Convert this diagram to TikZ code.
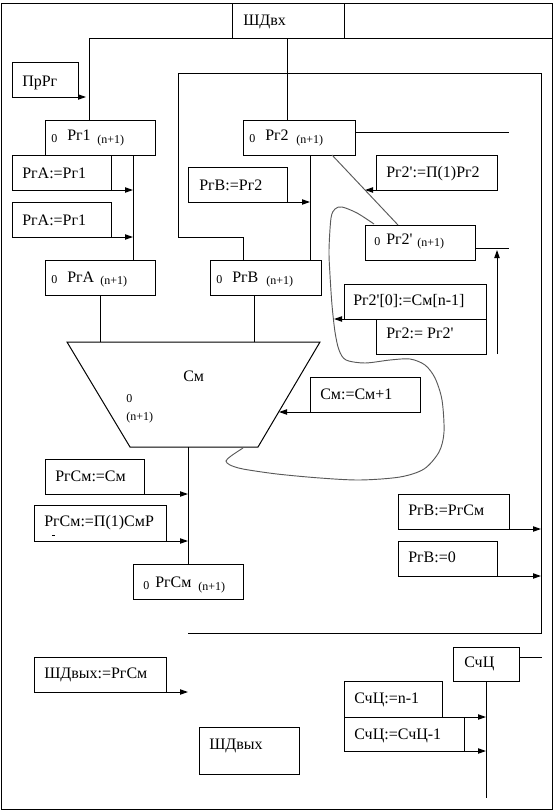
\documentclass[tikz,border=0pt]{standalone}
\usepackage{fontspec}
\setmainfont{Liberation Serif}[Ligatures=TeXOff]
\usetikzlibrary{arrows.meta,fit,calc}
\begin{document}
\begin{tikzpicture}[x=0.75pt,y=-0.75pt,
  ln/.style={line width=0.75pt},
  bx/.style={draw, line width=0.75pt, inner sep=0pt, outer sep=0pt, rectangle},
  txt/.style={anchor=base west, inner sep=0pt, font=\fontsize{12}{14}\selectfont},
  sub/.style={anchor=base west, inner sep=0pt, font=\fontsize{9}{10}\selectfont},
  arr/.style={line width=0.75pt, -{Triangle[length=6pt,width=4pt]}},
  gr/.style={draw=black!65, line width=0.7pt}]
\useasboundingbox (0,0) rectangle (554,810);
% ---------- boxes ----------
\node[bx, fit={(1,3)(552,809)}] (frame) {};
\node[bx, fit={(232,3)(344,38)}] (shdvx) {};
\node[bx, fit={(344,3)(552,38)}] (topr) {};
\node[bx, fit={(12,62)(78,97)}] (prrg) {};
\node[bx, fit={(45,120)(155,155)}] (pr1) {};
\node[bx, fit={(12,155)(111,190)}] (pra1) {};
\node[bx, fit={(12,202)(111,237)}] (pra2) {};
\node[bx, fit={(188,167)(287,202)}] (prb2) {};
\node[bx, fit={(243,120)(355,155)}] (pr2) {};
\node[bx, fit={(376,155)(497,190)}] (shft) {};
\node[bx, fit={(365,225)(475,260)}] (pr2p) {};
\node[bx, fit={(344,284)(486,319)}] (pr20) {};
\node[bx, fit={(376,319)(486,354)}] (pr2c) {};
\node[bx, fit={(45,260)(155,295)}] (pra) {};
\node[bx, fit={(210,260)(321,295)}] (prb) {};
\node[bx, fit={(310,377)(420,412)}] (inc) {};
\node[bx, fit={(45,459)(144,494)}] (rsm1) {};
\node[bx, fit={(34,505)(166,541)}] (rsm2) {};
\node[bx, fit={(133,564)(243,599)}] (rsm) {};
\node[bx, fit={(34,657)(166,692)}] (out1) {};
\node[bx, fit={(199,727)(299,774)}] (out) {};
\node[bx, fit={(398,494)(509,529)}] (rb1) {};
\node[bx, fit={(398,541)(497,576)}] (rb2) {};
\node[bx, fit={(453,647)(519,681)}] (sch) {};
\node[bx, fit={(344,681)(442,717)}] (sch1) {};
\node[bx, fit={(344,717)(464,751)}] (sch2) {};
% adder (trapezoid)
\coordinate (tA) at (67,342);
\coordinate (tB) at (320,342);
\coordinate (tC) at (258,447);
\coordinate (tD) at (130,447);
\draw[ln] (tA) -- (tB) -- (tC) -- (tD) -- cycle;
% ---------- texts ----------
\node[txt] (t-shdvx) at (243,25) {ШДвх};
\node[txt] (t-prrg) at (22,86) {ПрРг};
\node[sub] (t-pr1a) at (51,142) {0};
\node[txt] (t-pr1b) at (67,140) {Рг1};
\node[sub] (t-pr1c) at (97,143) {(n+1)};
\node[txt] (t-pra1) at (22,178) {РгА:=Рг1};
\node[txt] (t-pra2) at (22,225) {РгА:=Рг1};
\node[txt] (t-prb2) at (199,190) {РгВ:=Рг2};
\node[sub] (t-pr2a) at (249,142) {0};
\node[txt] (t-pr2b) at (265,140) {Рг2};
\node[sub] (t-pr2c) at (296,143) {(n+1)};
\node[txt] (t-shft) at (386,177) {Рг2':=П(1)Рг2};
\node[sub] (t-pr2pa) at (374,245) {0};
\node[txt] (t-pr2pb) at (386,244) {Рг2'};
\node[sub] (t-pr2pc) at (417,246) {(n+1)};
\node[txt] (t-pr20) at (353,305) {Рг2'[0]:=См[n-1]};
\node[txt] (t-pr2c) at (386,338) {Рг2:= Рг2'};
\node[sub] (t-praa) at (51,283) {0};
\node[txt] (t-prab) at (67,282) {РгА};
\node[sub] (t-prac) at (100,284) {(n+1)};
\node[sub] (t-prba) at (216,283) {0};
\node[txt] (t-prbb) at (232,282) {РгВ};
\node[sub] (t-prbc) at (266,284) {(n+1)};
\node[txt] (t-sm) at (183,381) {См};
\node[sub] (t-sma) at (126,402) {0};
\node[sub] (t-smb) at (126,420) {(n+1)};
\node[txt] (t-inc) at (320,399) {См:=См+1};
\node[txt] (t-rsm1) at (55,481) {РгСм:=См};
\node[txt] (t-rsm2) at (44,526) {РгСм:=П(1)СмР};
\node[sub] (t-rsma) at (143,589) {0};
\node[txt] (t-rsmb) at (155,587) {РгСм};
\node[sub] (t-rsmc) at (198,590) {(n+1)};
\node[txt] (t-out1) at (44,678) {ШДвых:=РгСм};
\node[txt] (t-out) at (209,749) {ШДвых};
\node[txt] (t-rb1) at (408,515) {РгВ:=РгСм};
\node[txt] (t-rb2) at (408,562) {РгВ:=0};
\node[txt] (t-sch) at (464,667) {СчЦ};
\node[txt] (t-sch1) at (354,703) {СчЦ:=n-1};
\node[txt] (t-sch2) at (354,739) {СчЦ:=СчЦ-1};
\draw[line width=0.5pt] (52,535) -- (55,535);
% ---------- connectors ----------
\coordinate (busL) at (89,38);
\draw[ln] (pr1.north -| busL) -- (busL) -- (shdvx.south west);
\coordinate (busT2) at (287,38);
\draw[ln] (pr2.north -| busT2) -- (busT2);
\coordinate (prrgE) at (86,97);
\draw[arr] (prrg.south east) -- (prrgE);
\coordinate (b1) at (133,0);
\draw[ln] (pr1.south -| b1) -- (pra.north -| b1);
\draw[arr] (pra1.south east) -- (pra1.south east -| b1);
\draw[arr] (pra2.south east) -- (pra2.south east -| b1);
\coordinate (b2) at (310,0);
\draw[ln] (pr2.south -| b2) -- (prb.north -| b2);
\draw[arr] (prb2.south east) -- (prb2.south east -| b2);
\coordinate (f2a) at (243,237);
\coordinate (f2b) at (178,237);
\coordinate (f2c) at (178,73);
\coordinate (f2d) at (541,73);
\coordinate (f2e) at (541,633);
\coordinate (f2f) at (188,633);
\draw[ln] (prb.north -| f2a) -- (f2a) -- (f2b) -- (f2c) -- (f2d) -- (f2e) -- (f2f);
\coordinate (pr2R) at (509,132);
\draw[ln] (pr2.east |- pr2R) -- (pr2R);
\coordinate (dg1) at (332,155);
\coordinate (dg2) at (398,225);
\draw[gr] (dg1) -- (dg2);
\coordinate (dgm) at ($(dg1)!0.5!(dg2)$);
\draw[arr] (shft.south west) -- (dgm);
\coordinate (pr2pR) at (509,248);
\draw[ln] (pr2p.east |- pr2pR) -- (pr2pR);
\coordinate (upB) at (497,354);
\coordinate (upT) at (497,250);
\draw[arr] (upB) -- (upT);
\coordinate (crv) at (334,319);
\draw[arr] (pr20.south west) -- (crv);
\coordinate (ca) at (100,342);
\draw[ln] (pra.south -| ca) -- (ca);
\coordinate (cb) at (254,342);
\draw[ln] (prb.south -| cb) -- (cb);
\coordinate (incT) at (279,412);
\draw[arr] (inc.south west) -- (incT);
\coordinate (cs) at (188,447);
\draw[ln] (cs) -- (rsm.north -| cs);
\draw[arr] (rsm1.south east) -- (rsm1.south east -| cs);
\draw[arr] (rsm2.south east) -- (rsm2.south east -| cs);
\draw[arr] (out1.south east) -- (out1.south east -| cs);
\coordinate (rR) at (541,0);
\draw[arr] (rb1.south east) -- (rb1.south east -| rR);
\draw[arr] (rb2.south east) -- (rb2.south east -| rR);
\coordinate (schR) at (542,657);
\draw[ln] (sch.east |- schR) -- (schR);
\coordinate (schB) at (486,798);
\draw[ln] (sch.south -| schB) -- (schB);
\draw[arr] (sch1.south east) -- (sch1.south east -| schB);
\draw[arr] (sch2.south east) -- (sch2.south east -| schB);
% feedback curve
\draw[gr] plot[smooth, tension=0.5] coordinates {(374,224) (357,213) (342,207) (335,209) (331,218) (329,250) (330,275) (332,305) (335,332) (339,350) (346,360) (365,363) (390,360) (410,359) (425,365) (435,378) (442,400) (444,432) (439,452) (424,469) (400,477) (360,480) (320,478) (277,474) (243,469) (230,465) (226,461) (231,456) (243,448)};
\end{tikzpicture}
\end{document}
